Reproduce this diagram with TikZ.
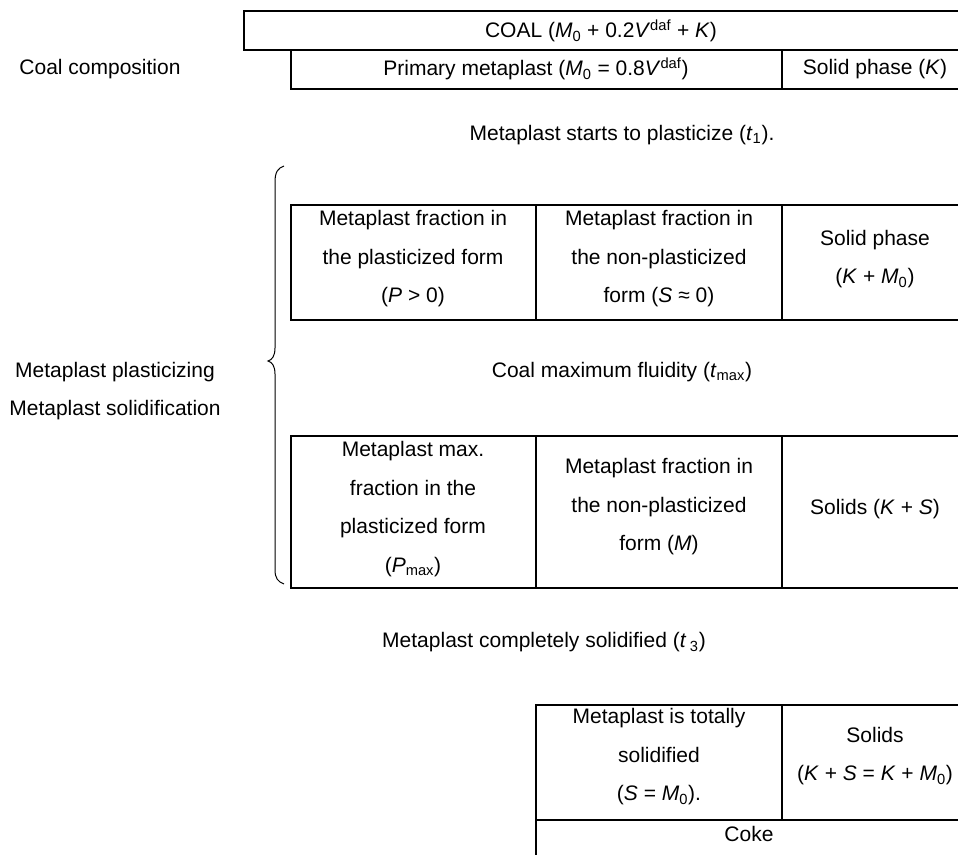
\documentclass[tikz,border=0pt]{standalone}
\usepackage{fontspec}
\setmainfont{Liberation Sans}
\newcommand{\Mnull}{\textit{M}\textsubscript{0}}
\newcommand{\Vdaf}{\textit{V}\textsuperscript{daf}}
\tikzset{every picture/.style={line width=0.75pt}}
\tikzset{tabline/.style={line width=1.1pt},
  txt/.style={align=center,inner sep=0pt,font=\fontsize{15.75}{28.9}\selectfont}}
\begin{document}
\begin{tikzpicture}[x=0.75pt,y=0.75pt,yscale=-1,xscale=1]
\useasboundingbox (0,0) rectangle (958,855);

%Shape: Rectangle [COAL row]
\draw [tabline] (244,11) rectangle (962,50) ;
%Shape: Rectangle [primary metaplast row]
\draw [tabline] (291,50) rectangle (962,89) ;
\draw [tabline] (782,50) -- (782,89) ;
%Shape: Rectangle [plasticizing row]
\draw [tabline] (291,205) rectangle (962,320) ;
\draw [tabline] (536,205) -- (536,320) (782,205) -- (782,320) ;
%Shape: Rectangle [maximum fluidity row]
\draw [tabline] (291,436) rectangle (962,588) ;
\draw [tabline] (536,436) -- (536,588) (782,436) -- (782,588) ;
%Shape: Rectangle [solidified row]
\draw [tabline] (536,705) rectangle (962,820) ;
\draw [tabline] (782,705) -- (782,820) ;
%Shape: Rectangle [coke row]
\draw [tabline] (536,820) rectangle (962,870) ;

%Shape: Brace
\draw (284,166) .. controls (278,168) and (275,172) .. (275,182) -- (275,348) .. controls (275,356) and (272,360) .. (268,361) .. controls (272,362) and (275,366) .. (275,374) -- (275,570) .. controls (275,578) and (278,582) .. (284,584) ;


% Text Node
\draw (601,31) node (coal) [txt] {COAL (\Mnull{} + 0.2\Vdaf{} + \textit{K})};
% Text Node
\draw (100,69) node (composition) [txt] {Coal composition};
% Text Node
\draw (536,69) node (primary) [txt] {Primary metaplast (\Mnull{} = 0.8\Vdaf)};
% Text Node
\draw (875,69) node (solidK) [txt] {Solid phase (\textit{K})};
% Text Node
\draw (622,135) node (start) [txt] {Metaplast starts to plasticize (\textit{t}\textsubscript{1}).};
% Text Node
\draw (413,259) node (plastP) [txt] {Metaplast fraction in\\the plasticized form\\(\textit{P} > 0)};
% Text Node
\draw (659,259) node (nonplastS) [txt] {Metaplast fraction in\\the non-plasticized\\form (\textit{S} ≈ 0)};
% Text Node
\draw (875,259) node (solidKM) [txt] {Solid phase\\(\textit{K} + \Mnull)};
% Text Node
\draw (622,372) node (fluidity) [txt] {Coal maximum fluidity (\textit{t}\textsubscript{max})};
% Text Node
\draw (115,391) node (stages) [txt] {Metaplast plasticizing\\Metaplast solidification};
% Text Node
\draw (413,509) node (plastmax) [txt] {Metaplast max.\\fraction in the\\plasticized form\\(\textit{P}\textsubscript{max})};
% Text Node
\draw (659,507) node (nonplastM) [txt] {Metaplast fraction in\\the non-plasticized\\form (\textit{M})};
% Text Node
\draw (875,509) node (solidKS) [txt] {Solids (\textit{K} + \textit{S})};
% Text Node
\draw (544,642) node (solidified) [txt] {Metaplast completely solidified (\textit{t}\,\textsubscript{3})};
% Text Node
\draw (659,757) node (totally) [txt] {Metaplast is totally\\solidified\\(\textit{S} = \Mnull).};
% Text Node
\draw (875,756) node (solidsend) [txt] {Solids\\(\textit{K} + \textit{S} = \textit{K} + \Mnull)};
% Text Node
\draw (749,834) node (coke) [txt] {Coke};

\end{tikzpicture}
\end{document}
